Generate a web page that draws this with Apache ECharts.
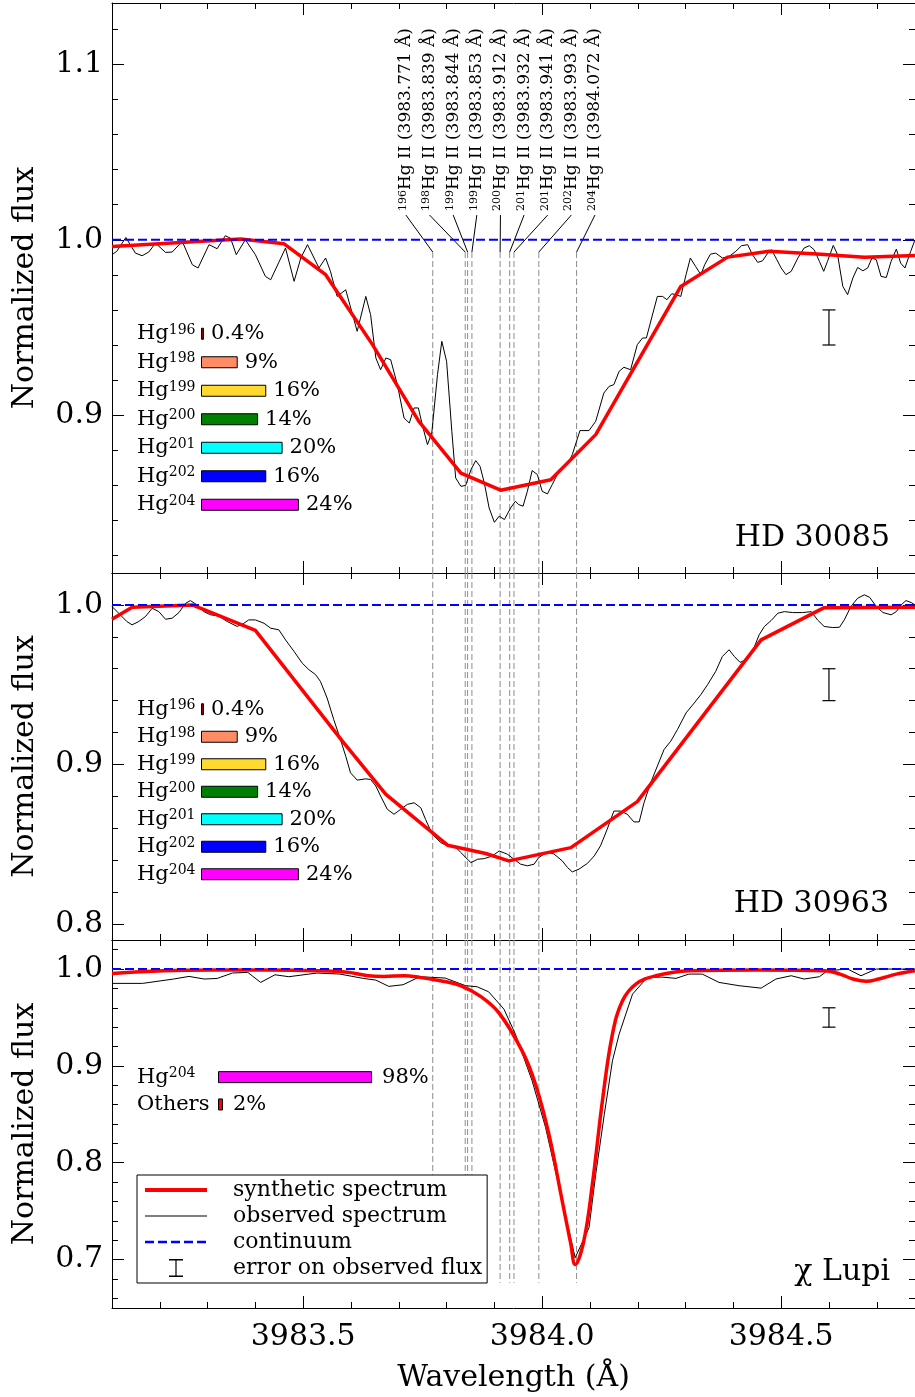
<!DOCTYPE html>
<html><head><meta charset="utf-8">
<script src="https://cdn.jsdelivr.net/npm/echarts@6/dist/echarts.min.js"></script>
<style>html,body{margin:0;padding:0;background:#fff}#c{width:915px;height:1397px}</style>
</head><body><div id="c"></div>
<script>
const FONT = 'DejaVu Serif';
// ---- tick labels ----
const xTicks = [3983.5, 3984.0, 3984.5];
const yTicks1 = [0.9, 1.0, 1.1];
const yTicks2 = [0.8, 0.9, 1.0];
const yTicks3 = [0.7, 0.8, 0.9, 1.0];
const starNames = ['HD 30085', 'HD 30963', 'χ Lupi'];
// ---- Hg II line list ----
const isoMass = ['196','198','199','199','200','201','201','202','204'];
const isoWaves = [3983.771, 3983.839, 3983.844, 3983.853, 3983.912, 3983.932, 3983.941, 3983.993, 3984.072];
// ---- isotopic abundances ----
const abundIso = ['196','198','199','200','201','202','204'];
const abund1 = [0.4, 9, 16, 14, 20, 16, 24];
const abund2 = [0.4, 9, 16, 14, 20, 16, 24];
const abundIso3 = ['204', 'Others'];
const abund3 = [98, 2];
const continuum = 1.0;
// error bars [wavelength, flux, error]
const err1 = [3984.6, 0.95, 0.01];
const err2 = [3984.6, 0.95, 0.01];
const err3 = [3984.6, 0.95, 0.01];
// ---- HD 30085 ----
const obs1 = [[3983.100,0.9915],[3983.110,0.9934],[3983.129,1.0013],[3983.149,0.9924],[3983.163,0.9909],[3983.177,0.9930],[3983.191,0.9981],[3983.212,0.9928],[3983.226,0.9930],[3983.247,0.9991],[3983.268,0.9858],[3983.280,0.9839],[3983.303,0.9972],[3983.320,0.9949],[3983.337,1.0023],[3983.348,1.0009],[3983.360,0.9915],[3983.379,1.0000],[3983.400,0.9915],[3983.421,0.9791],[3983.432,0.9772],[3983.463,0.9953],[3983.481,0.9763],[3983.495,0.9896],[3983.509,0.9972],[3983.533,0.9839],[3983.547,0.9896],[3983.557,0.9820],[3983.571,0.9677],[3983.589,0.9715],[3983.613,0.9478],[3983.631,0.9677],[3983.641,0.9573],[3983.652,0.9326],[3983.662,0.9259],[3983.673,0.9326],[3983.683,0.9316],[3983.697,0.9174],[3983.711,0.8984],[3983.722,0.8955],[3983.732,0.9041],[3983.741,0.9041],[3983.749,0.8946],[3983.760,0.8832],[3983.769,0.8898],[3983.781,0.9231],[3983.790,0.9421],[3983.800,0.9307],[3983.811,0.8908],[3983.819,0.8642],[3983.830,0.8594],[3983.840,0.8600],[3983.851,0.8689],[3983.861,0.8741],[3983.870,0.8708],[3983.879,0.8613],[3983.889,0.8471],[3983.900,0.8389],[3983.910,0.8424],[3983.921,0.8405],[3983.934,0.8471],[3983.944,0.8509],[3983.951,0.8490],[3983.960,0.8481],[3983.969,0.8566],[3983.979,0.8684],[3983.990,0.8661],[3984.000,0.8566],[3984.011,0.8551],[3984.021,0.8604],[3984.035,0.8680],[3984.053,0.8718],[3984.063,0.8775],[3984.079,0.8912],[3984.098,0.8912],[3984.112,0.8965],[3984.129,0.9126],[3984.140,0.9164],[3984.150,0.9174],[3984.161,0.9250],[3984.171,0.9273],[3984.185,0.9259],[3984.199,0.9402],[3984.210,0.9440],[3984.218,0.9440],[3984.229,0.9554],[3984.241,0.9677],[3984.252,0.9677],[3984.261,0.9658],[3984.271,0.9692],[3984.280,0.9687],[3984.290,0.9677],[3984.301,0.9801],[3984.310,0.9896],[3984.321,0.9848],[3984.332,0.9801],[3984.340,0.9858],[3984.352,0.9918],[3984.363,0.9924],[3984.377,0.9896],[3984.391,0.9905],[3984.405,0.9934],[3984.417,0.9966],[3984.430,0.9972],[3984.440,0.9915],[3984.451,0.9871],[3984.461,0.9880],[3984.472,0.9924],[3984.480,0.9943],[3984.491,0.9886],[3984.500,0.9839],[3984.510,0.9801],[3984.521,0.9820],[3984.535,0.9896],[3984.548,0.9953],[3984.559,0.9966],[3984.569,0.9943],[3984.580,0.9877],[3984.589,0.9820],[3984.597,0.9877],[3984.609,0.9968],[3984.618,0.9915],[3984.629,0.9734],[3984.639,0.9687],[3984.650,0.9782],[3984.660,0.9842],[3984.671,0.9823],[3984.681,0.9839],[3984.690,0.9896],[3984.699,0.9886],[3984.709,0.9791],[3984.720,0.9785],[3984.730,0.9877],[3984.741,0.9947],[3984.750,0.9867],[3984.759,0.9839],[3984.771,0.9934],[3984.780,1.0000]];
const syn1 = [[3983.100,0.9962],[3983.369,1.0004],[3983.460,0.9977],[3983.547,0.9801],[3983.645,0.9402],[3983.742,0.8965],[3983.830,0.8670],[3983.913,0.8572],[3984.018,0.8632],[3984.112,0.8889],[3984.290,0.9734],[3984.388,0.9901],[3984.475,0.9934],[3984.583,0.9918],[3984.674,0.9901],[3984.780,0.9911]];
// ---- HD 30963 ----
const obs2 = [[3983.100,0.9990],[3983.114,0.9948],[3983.131,0.9896],[3983.142,0.9875],[3983.156,0.9896],[3983.170,0.9927],[3983.184,0.9979],[3983.198,0.9958],[3983.212,0.9910],[3983.226,0.9917],[3983.240,0.9952],[3983.254,1.0010],[3983.264,1.0027],[3983.278,1.0000],[3983.292,0.9958],[3983.306,0.9938],[3983.323,0.9931],[3983.341,0.9896],[3983.362,0.9865],[3983.376,0.9885],[3983.386,0.9906],[3983.400,0.9906],[3983.418,0.9885],[3983.432,0.9854],[3983.449,0.9844],[3983.463,0.9781],[3983.481,0.9708],[3983.498,0.9635],[3983.512,0.9594],[3983.526,0.9563],[3983.536,0.9521],[3983.550,0.9417],[3983.564,0.9281],[3983.578,0.9156],[3983.589,0.9052],[3983.599,0.8948],[3983.613,0.8902],[3983.631,0.8910],[3983.641,0.8906],[3983.652,0.8865],[3983.662,0.8802],[3983.676,0.8719],[3983.690,0.8688],[3983.704,0.8719],[3983.718,0.8750],[3983.732,0.8760],[3983.746,0.8729],[3983.756,0.8656],[3983.770,0.8563],[3983.788,0.8510],[3983.802,0.8490],[3983.816,0.8490],[3983.830,0.8448],[3983.840,0.8417],[3983.851,0.8385],[3983.865,0.8406],[3983.879,0.8410],[3983.896,0.8427],[3983.910,0.8458],[3983.927,0.8438],[3983.941,0.8406],[3983.955,0.8375],[3983.969,0.8365],[3983.983,0.8375],[3983.993,0.8417],[3984.011,0.8452],[3984.025,0.8438],[3984.042,0.8396],[3984.053,0.8354],[3984.063,0.8327],[3984.077,0.8344],[3984.095,0.8381],[3984.109,0.8427],[3984.122,0.8490],[3984.136,0.8594],[3984.150,0.8708],[3984.164,0.8708],[3984.178,0.8688],[3984.192,0.8640],[3984.203,0.8640],[3984.213,0.8760],[3984.227,0.8885],[3984.241,0.8990],[3984.255,0.9094],[3984.269,0.9146],[3984.283,0.9219],[3984.301,0.9323],[3984.318,0.9385],[3984.332,0.9438],[3984.346,0.9500],[3984.363,0.9583],[3984.377,0.9677],[3984.391,0.9719],[3984.402,0.9677],[3984.414,0.9640],[3984.426,0.9656],[3984.440,0.9708],[3984.454,0.9813],[3984.465,0.9865],[3984.479,0.9902],[3984.493,0.9948],[3984.507,0.9958],[3984.524,0.9952],[3984.545,0.9952],[3984.563,0.9958],[3984.576,0.9906],[3984.590,0.9865],[3984.608,0.9858],[3984.622,0.9860],[3984.632,0.9906],[3984.646,0.9990],[3984.660,1.0042],[3984.674,1.0063],[3984.685,1.0048],[3984.699,0.9990],[3984.713,0.9952],[3984.730,0.9938],[3984.741,0.9958],[3984.751,1.0000],[3984.761,1.0027],[3984.772,1.0015],[3984.780,1.0000]];
const syn2 = [[3983.100,0.9910],[3983.142,0.9985],[3983.268,1.0000],[3983.400,0.9840],[3983.582,0.9146],[3983.673,0.8813],[3983.802,0.8494],[3983.882,0.8442],[3983.930,0.8396],[3984.060,0.8479],[3984.199,0.8767],[3984.458,0.9781],[3984.590,0.9983],[3984.780,0.9985]];
// ---- chi Lupi ----
const obs3 = [[3983.100,0.9852],[3983.164,0.9852],[3983.229,0.9897],[3983.261,0.9924],[3983.293,0.9897],[3983.320,0.9903],[3983.352,0.9959],[3983.384,0.9966],[3983.411,0.9862],[3983.441,0.9941],[3983.470,0.9921],[3983.529,0.9959],[3983.577,0.9948],[3983.626,0.9903],[3983.652,0.9886],[3983.679,0.9821],[3983.709,0.9838],[3983.744,0.9921],[3983.797,0.9907],[3983.840,0.9828],[3983.864,0.9817],[3983.888,0.9765],[3983.920,0.9586],[3983.944,0.9328],[3983.979,0.8845],[3984.007,0.8366],[3984.042,0.7604],[3984.069,0.7019],[3984.098,0.7329],[3984.112,0.7880],[3984.130,0.8500],[3984.147,0.9052],[3984.161,0.9328],[3984.189,0.9741],[3984.220,0.9914],[3984.250,0.9917],[3984.280,0.9904],[3984.307,0.9948],[3984.335,0.9948],[3984.370,0.9862],[3984.412,0.9828],[3984.458,0.9803],[3984.489,0.9897],[3984.521,0.9931],[3984.548,0.9897],[3984.580,0.9921],[3984.597,0.9983],[3984.639,1.0000],[3984.667,0.9931],[3984.699,1.0000],[3984.755,1.0000],[3984.780,1.0000]];
const syn3 = [[3983.100,0.9955],[3983.207,0.9983],[3983.315,0.9990],[3983.422,0.9990],[3983.529,0.9983],[3983.593,0.9966],[3983.636,0.9931],[3983.669,0.9924],[3983.711,0.9931],[3983.744,0.9914],[3983.787,0.9879],[3983.829,0.9830],[3983.872,0.9715],[3983.910,0.9545],[3983.958,0.9155],[3983.986,0.8811],[3984.014,0.8294],[3984.042,0.7604],[3984.060,0.7156],[3984.069,0.6949],[3984.087,0.7190],[3984.105,0.7777],[3984.126,0.8638],[3984.147,0.9328],[3984.168,0.9672],[3984.196,0.9845],[3984.238,0.9931],[3984.307,0.9983],[3984.450,0.9990],[3984.591,0.9983],[3984.623,0.9948],[3984.650,0.9897],[3984.678,0.9873],[3984.704,0.9897],[3984.741,0.9948],[3984.780,0.9983]];

// ---------------- layout ----------------
const xMin = 3983.1, xMax = 3984.78;
const isoColors = {'196':'#8b0000','198':'#ff8c64','199':'#ffd92f','200':'#008000','201':'#00ffff','202':'#0000ff','204':'#ff00ff','Others':'#ff0000'};
function range(a, b, step){const n=Math.round((b-a)/step);const o=[];for(let k=0;k<=n;k++)o.push(+(a+k*step).toFixed(4));return o;}
const xMinor = range(3983.2, 3984.7, 0.1);
const panels = [
  {top:3,   height:570, yMin:0.81, yMax:1.135, major:yTicks1, minor:range(0.82,1.12,0.02), obs:obs1, syn:syn1, err:err1, smooth:false},
  {top:573, height:367, yMin:0.79, yMax:1.02,  major:yTicks2, minor:range(0.80,1.02,0.02), obs:obs2, syn:syn2, err:err2, smooth:false},
  {top:940, height:368, yMin:0.65, yMax:1.03,  major:yTicks3, minor:range(0.66,1.02,0.02), obs:obs3, syn:syn3, err:err3, smooth:0.4}
];
const isoPanels = [
  {left:201, top:319.5, width:408, height:199.5, cats:abundIso, vals:abund1, margin:64, minW:3, dist:7},
  {left:201, top:695.5, width:408, height:192.5, cats:abundIso, vals:abund2, margin:64, minW:3, dist:7},
  {left:218, top:1063.5, width:157.2, height:54.6, cats:abundIso3, vals:abund3, margin:81, minW:5, dist:10}
];
const labelStart = xMin + 293.5/477.3, labelStep = 23.6/477.3;
const axLine = {show:true, onZero:false, lineStyle:{color:'#000', width:1}};
const tickStyle = {color:'#000', width:1};

const grids=[], xAxes=[], yAxes=[], series=[];
panels.forEach((p,k)=>{
  grids.push({left:112, right:0, top:p.top, height:p.height});
  const bx = {type:'value', gridIndex:k, min:xMin, max:xMax, splitLine:{show:false}};
  const last = k===2;
  xAxes.push(Object.assign({}, bx, {position:'bottom', axisLine:axLine,
    axisTick:{show:true, inside:true, length:12, customValues:xTicks, lineStyle:tickStyle},
    axisLabel:{show:last, customValues:xTicks, formatter:v=>v.toFixed(1), fontFamily:FONT, fontSize:30, color:'#000', margin:14},
    name: last ? 'Wavelength (Å)' : '', nameLocation:'middle', nameGap:55, nameTextStyle:{fontFamily:FONT, fontSize:30, color:'#000'}}));
  xAxes.push(Object.assign({}, bx, {position:'bottom', axisLine:{show:false},
    axisTick:{show:true, inside:true, length:6, customValues:xMinor, lineStyle:tickStyle}, axisLabel:{show:false}}));
  xAxes.push(Object.assign({}, bx, {position:'top', axisLine:axLine,
    axisTick:{show:true, inside:true, length:12, customValues:xTicks, lineStyle:tickStyle}, axisLabel:{show:false}}));
  xAxes.push(Object.assign({}, bx, {position:'top', axisLine:{show:false},
    axisTick:{show:true, inside:true, length:6, customValues:xMinor, lineStyle:tickStyle}, axisLabel:{show:false}}));
  const by = {type:'value', gridIndex:k, min:p.yMin, max:p.yMax, splitLine:{show:false}};
  yAxes.push(Object.assign({}, by, {position:'left', axisLine:axLine,
    axisTick:{show:true, inside:true, length:12, customValues:p.major, lineStyle:tickStyle},
    axisLabel:{show:true, customValues:p.major, formatter:v=>v.toFixed(1), fontFamily:FONT, fontSize:30, color:'#000', margin:9},
    name:'Normalized flux', nameLocation:'middle', nameGap:72, nameTextStyle:{fontFamily:FONT, fontSize:30, color:'#000'}}));
  yAxes.push(Object.assign({}, by, {position:'left', axisLine:{show:false},
    axisTick:{show:true, inside:true, length:6, customValues:p.minor, lineStyle:tickStyle}, axisLabel:{show:false}}));
  yAxes.push(Object.assign({}, by, {position:'right', axisLine:axLine,
    axisTick:{show:true, inside:true, length:12, customValues:p.major, lineStyle:tickStyle}, axisLabel:{show:false}}));
  yAxes.push(Object.assign({}, by, {position:'right', axisLine:{show:false},
    axisTick:{show:true, inside:true, length:6, customValues:p.minor, lineStyle:tickStyle}, axisLabel:{show:false}}));

  const xi = 4*k, yi = 4*k;
  // line-position guides
  series.push({type:'custom', name:'guides'+k, xAxisIndex:xi, yAxisIndex:yi, z:1, silent:true, clip:false,
    data: isoWaves.map(w=>[w, continuum]),
    renderItem:(params, api)=>{
      const i = params.dataIndex, w = api.value(0);
      const children = [];
      if (k===0) {
        const labW = labelStart + i*labelStep;
        const pLead = api.coord([w, 0.993]);
        const pBot = api.coord([w, p.yMin]);
        const pTop = api.coord([labW, 1.0141]);
        const pTxt = api.coord([labW, 1.0164]);
        children.push({type:'line', shape:{x1:pLead[0],y1:pLead[1],x2:pBot[0],y2:pBot[1]}, style:{stroke:'#8c8c8c', lineWidth:1, lineDash:[6,3]}});
        children.push({type:'line', shape:{x1:pLead[0],y1:pLead[1],x2:pTop[0],y2:pTop[1]}, style:{stroke:'#000', lineWidth:1}});
        children.push({type:'text', x:pTxt[0], y:pTxt[1], rotation:Math.PI/2,
          style:{text:'{s|'+isoMass[i]+'}{m|Hg II ('+isoWaves[i].toFixed(3)+' Å)}',
            rich:{s:{fontSize:11, fontFamily:FONT, fill:'#000', verticalAlign:'top'}, m:{fontSize:17, fontFamily:FONT, fill:'#000'}},
            fill:'#000', fontFamily:FONT, fontSize:17, align:'left', verticalAlign:'middle'}});
      } else {
        const bottom = k===2 ? 0.676 : p.yMin;
        const a = api.coord([w, p.yMax]), b = api.coord([w, bottom]);
        children.push({type:'line', shape:{x1:a[0],y1:a[1],x2:b[0],y2:b[1]}, style:{stroke:'#8c8c8c', lineWidth:1, lineDash:[6,3]}});
      }
      return {type:'group', children};
    }});
  series.push({type:'line', name:'observed spectrum', xAxisIndex:xi, yAxisIndex:yi, data:p.obs, symbol:'none', showSymbol:false,
    lineStyle:{color:'#000', width:1}, itemStyle:{color:'#000'}, z:3});
  series.push({type:'line', name:'synthetic spectrum', xAxisIndex:xi, yAxisIndex:yi, data:p.syn, symbol:'none', showSymbol:false,
    smooth:p.smooth, lineStyle:{color:'#ff0000', width:3.5}, itemStyle:{color:'#ff0000'}, z:4});
  series.push({type:'line', name:'continuum', xAxisIndex:xi, yAxisIndex:yi, data:[[xMin, continuum],[xMax, continuum]], symbol:'none', showSymbol:false,
    lineStyle:{color:'#0000ff', width:2, type:[9,4]}, itemStyle:{color:'#0000ff'}, z:5});
  series.push({type:'custom', name:'error on observed flux', xAxisIndex:xi, yAxisIndex:yi, z:3, itemStyle:{color:'#000'},
    data:[p.err],
    renderItem:(params, api)=>{
      const x = api.value(0), y = api.value(1), e = api.value(2);
      const hi = api.coord([x, y+e]), lo = api.coord([x, y-e]);
      const h = 6.5, st = {stroke:'#000', lineWidth:1.2};
      return {type:'group', children:[
        {type:'line', shape:{x1:hi[0],y1:hi[1],x2:lo[0],y2:lo[1]}, style:st},
        {type:'line', shape:{x1:hi[0]-h,y1:hi[1],x2:hi[0]+h,y2:hi[1]}, style:st},
        {type:'line', shape:{x1:lo[0]-h,y1:lo[1],x2:lo[0]+h,y2:lo[1]}, style:st}
      ]};
    }});
});

isoPanels.forEach((q,k)=>{
  const gi = 3+k, ai = 12+k;
  grids.push({left:q.left, top:q.top, width:q.width, height:q.height});
  xAxes.push({type:'value', gridIndex:gi, min:0, max:100, show:false});
  yAxes.push({type:'category', gridIndex:gi, data:q.cats, inverse:true,
    axisLine:{show:false}, axisTick:{show:false}, splitLine:{show:false},
    axisLabel:{show:true, align:'left', margin:q.margin,
      formatter:v=> v==='Others' ? '{m|Others}' : '{m|Hg}{s|'+v+'}',
      rich:{m:{fontFamily:FONT, fontSize:21, color:'#000'}, s:{fontFamily:FONT, fontSize:14, color:'#000', verticalAlign:'top'}}}});
  series.push({type:'bar', name:'abund'+k, xAxisIndex:ai, yAxisIndex:ai, barWidth:12, barMinHeight:q.minW, silent:true,
    data:q.vals.map((v,i)=>({value:v, itemStyle:{color:isoColors[q.cats[i]]}})),
    itemStyle:{borderColor:'#000', borderWidth:1},
    label:{show:true, position:'right', distance:q.dist, formatter:pp=>pp.value+'%', fontFamily:FONT, fontSize:21, color:'#000'}});
});

const hideSym = {opacity:0};
const option = {
  animation:false,
  backgroundColor:'#fff',
  title: starNames.map((s,k)=>({text:s, right:[25,26,25][k], top:[523,889,1257][k], padding:0,
    textStyle:{fontFamily:FONT, fontSize:30, fontWeight:'normal', color:'#000'}})),
  legend:{orient:'vertical', left:137, top:1175, padding:[4,5,4,6], itemGap:4, itemWidth:62, itemHeight:18,
    borderColor:'#000', borderWidth:1, borderRadius:0, backgroundColor:'#fff', selectedMode:false,
    textStyle:{fontFamily:FONT, fontSize:22, color:'#000', padding:[0,0,0,21]},
    data:[{name:'synthetic spectrum', itemStyle:hideSym, lineStyle:{width:4}},
      {name:'observed spectrum', itemStyle:hideSym, lineStyle:{width:1.2}},
      {name:'continuum', itemStyle:hideSym, lineStyle:{width:2.5}},
      {name:'error on observed flux', icon:'path://M0,0H14V1.4H7.6V16.6H14V18H0V16.6H6.4V1.4H0Z'}]},
  grid:grids, xAxis:xAxes, yAxis:yAxes, series:series
};
const chart = echarts.init(document.getElementById('c'), null, {renderer:'canvas'});
chart.setOption(option);
</script></body></html>
